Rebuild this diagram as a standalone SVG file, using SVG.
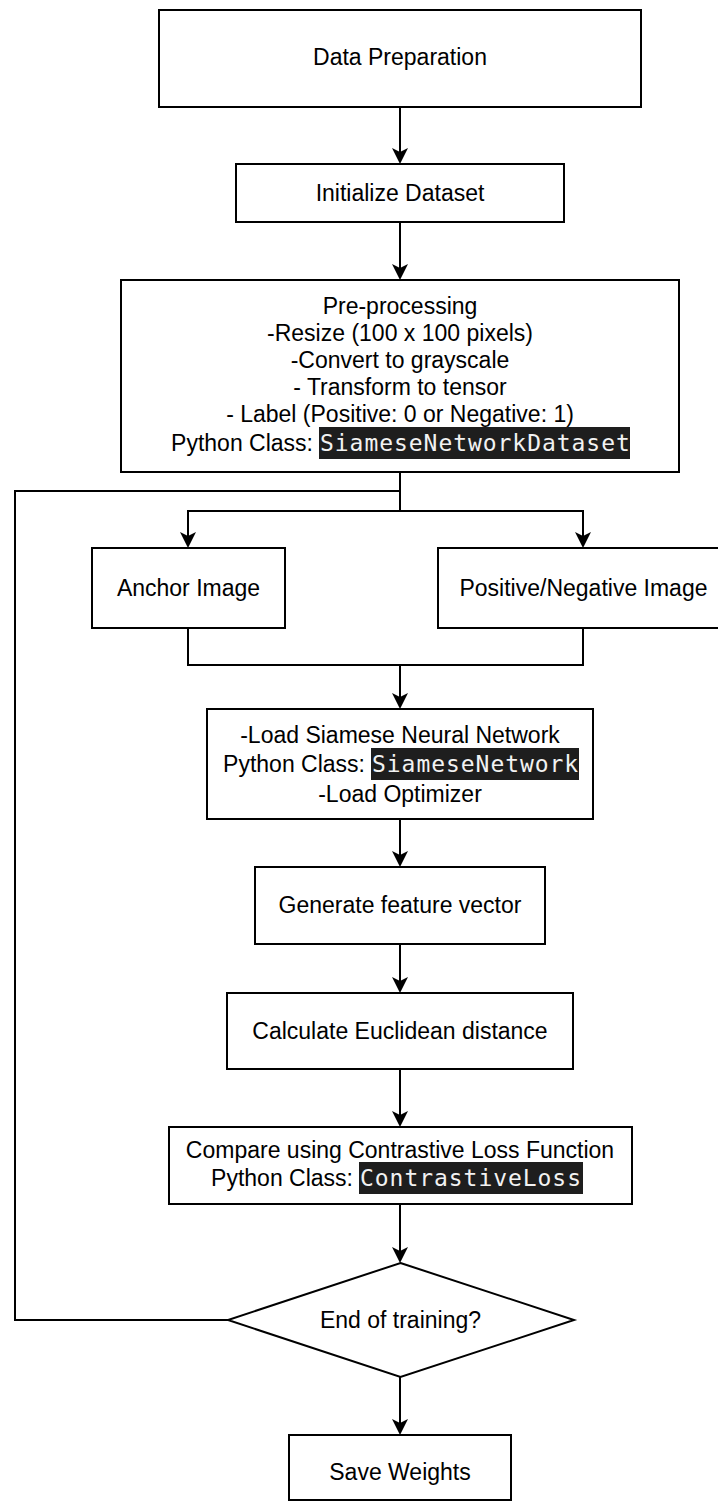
<svg xmlns="http://www.w3.org/2000/svg" width="718" height="1506" viewBox="0 0 718 1506">
  <style>
    .box { fill: #ffffff; stroke: #000000; stroke-width: 2; }
    .lbl { font-family: "Liberation Sans", Arial, sans-serif; font-size: 23px; fill: #000000; text-anchor: middle; }
    .lbl-end { font-family: "Liberation Sans", Arial, sans-serif; font-size: 23px; fill: #000000; text-anchor: end; }
    .code-bg { fill: #1e1e1e; }
    .code { font-family: "DejaVu Sans Mono", "Liberation Mono", monospace; font-size: 23px; fill: #f2f2f2; letter-spacing: 0.95px; }
    .wire { fill: none; stroke: #000000; stroke-width: 2; }
  </style>
  <defs>
    <marker id="arrow" markerUnits="userSpaceOnUse" markerWidth="18" markerHeight="18" viewBox="0 -9 18 18" refX="12" refY="0" orient="auto">
      <path d="M0,-8 L16,0 L0,8 L4,0 Z" fill="#000000"/>
    </marker>
  </defs>

  <rect width="718" height="1506" fill="#ffffff"/>

  <!-- connectors -->
  <g id="connectors">
    <path class="wire" d="M400,107 V160" marker-end="url(#arrow)"/>
    <path class="wire" d="M400,222 V276" marker-end="url(#arrow)"/>
    <!-- split into the two image branches -->
    <path class="wire" d="M400,472 V511"/>
    <path class="wire" d="M400,511 H188 V544" marker-end="url(#arrow)"/>
    <path class="wire" d="M400,511 H583 V544" marker-end="url(#arrow)"/>
    <!-- merge of the two branches -->
    <path class="wire" d="M188,628 V665 H583 V628"/>
    <path class="wire" d="M400,665 V705" marker-end="url(#arrow)"/>
    <path class="wire" d="M400,819 V863" marker-end="url(#arrow)"/>
    <path class="wire" d="M400,944 V989" marker-end="url(#arrow)"/>
    <path class="wire" d="M400,1069 V1123" marker-end="url(#arrow)"/>
    <path class="wire" d="M400,1204 V1259" marker-end="url(#arrow)"/>
    <path class="wire" d="M400,1377 V1431" marker-end="url(#arrow)"/>
    <!-- training loop back to the dataset -->
    <path class="wire" d="M228,1320 H15 V491 H400"/>
  </g>

  <g id="data-preparation">
    <rect class="box" x="159" y="10" width="482" height="97"/>
    <text class="lbl" x="400" y="65">Data Preparation</text>
  </g>

  <g id="initialize-dataset">
    <rect class="box" x="236" y="164" width="328" height="58"/>
    <text class="lbl" x="400" y="200.5">Initialize Dataset</text>
  </g>

  <g id="pre-processing">
    <rect class="box" x="121" y="280" width="558" height="192"/>
    <text class="lbl" x="400" y="314">Pre-processing</text>
    <text class="lbl" x="400" y="341">-Resize (100 x 100 pixels)</text>
    <text class="lbl" x="400" y="368">-Convert to grayscale</text>
    <text class="lbl" x="400" y="395">- Transform to tensor</text>
    <text class="lbl" x="400" y="422">- Label (Positive: 0 or Negative: 1)</text>
    <text class="lbl-end" x="313" y="451">Python Class:</text>
    <rect class="code-bg" x="319" y="427" width="311" height="32"/>
    <text class="code" x="320" y="451">SiameseNetworkDataset</text>
  </g>

  <g id="anchor-image">
    <rect class="box" x="92" y="548" width="193" height="80"/>
    <text class="lbl" x="188.5" y="596">Anchor Image</text>
  </g>

  <g id="positive-negative-image">
    <rect class="box" x="438" y="548" width="291" height="80"/>
    <text class="lbl" x="583.5" y="596">Positive/Negative Image</text>
  </g>

  <g id="load-network">
    <rect class="box" x="207" y="709" width="386" height="110"/>
    <text class="lbl" x="400" y="743">-Load Siamese Neural Network</text>
    <text class="lbl-end" x="365" y="772">Python Class:</text>
    <rect class="code-bg" x="371" y="748" width="208" height="32"/>
    <text class="code" x="372" y="772">SiameseNetwork</text>
    <text class="lbl" x="400" y="802">-Load Optimizer</text>
  </g>

  <g id="feature-vector">
    <rect class="box" x="255" y="867" width="290" height="77"/>
    <text class="lbl" x="400" y="913">Generate feature vector</text>
  </g>

  <g id="euclidean-distance">
    <rect class="box" x="227" y="993" width="346" height="76"/>
    <text class="lbl" x="400" y="1038.5">Calculate Euclidean distance</text>
  </g>

  <g id="contrastive-loss">
    <rect class="box" x="169" y="1127" width="463" height="77"/>
    <text class="lbl" x="400" y="1158">Compare using Contrastive Loss Function</text>
    <text class="lbl-end" x="353" y="1186">Python Class:</text>
    <rect class="code-bg" x="359" y="1162" width="224" height="32"/>
    <text class="code" x="360" y="1186">ContrastiveLoss</text>
  </g>

  <g id="end-of-training">
    <polygon class="box" points="400.5,1263 574,1320 400.5,1377 228,1320"/>
    <text class="lbl" x="400.5" y="1328">End of training?</text>
  </g>

  <g id="save-weights">
    <rect class="box" x="289" y="1435" width="222" height="65"/>
    <text class="lbl" x="400" y="1480">Save Weights</text>
  </g>
</svg>
